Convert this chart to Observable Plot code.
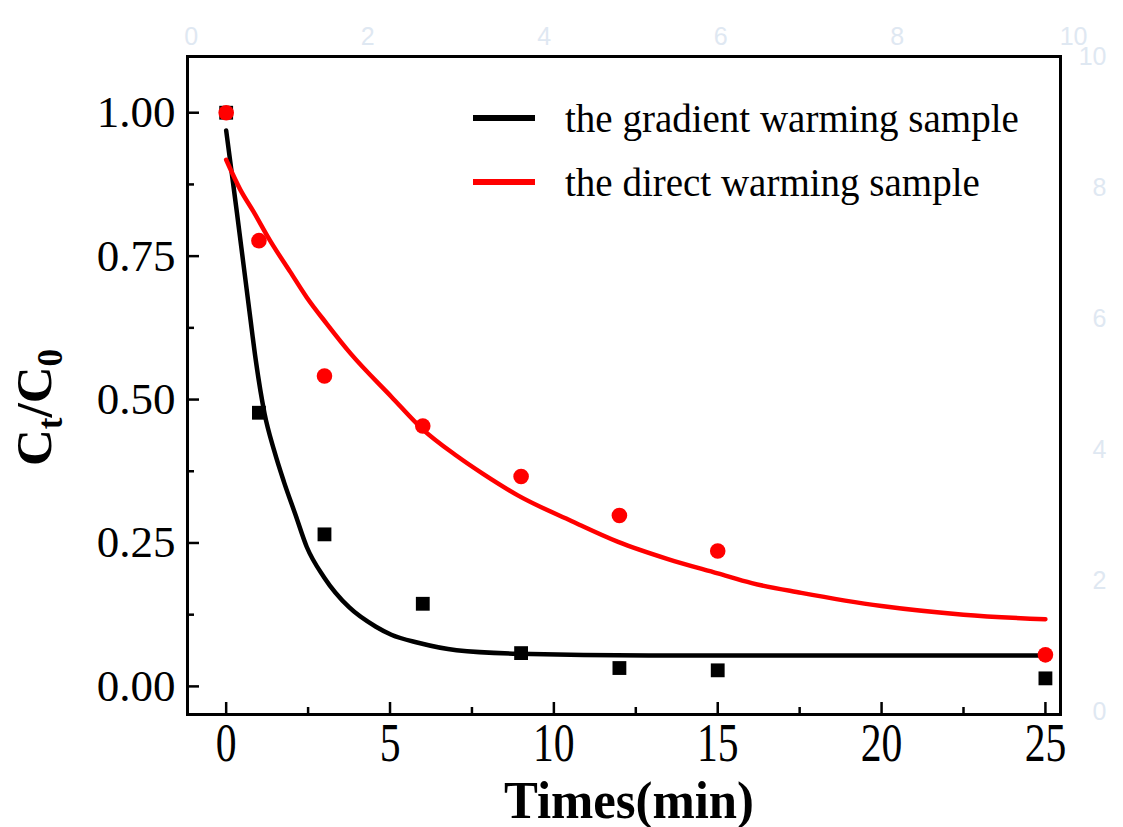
<!DOCTYPE html>
<html>
<head>
<meta charset="utf-8">
<script src="https://cdn.jsdelivr.net/npm/d3@7"></script>
<script src="https://cdn.jsdelivr.net/npm/@observablehq/plot@0.6"></script>
<style>
  html, body { margin: 0; padding: 0; background: #fff; }
  #wrap { position: relative; width: 1123px; height: 827px; overflow: hidden; }
  #wrap svg { display: block; }
  .leg { position: absolute; display: flex; align-items: center; height: 44px;
         font-family: "Liberation Serif", "Times New Roman", serif; font-size: 39px; color: #000; white-space: nowrap; }
  .leg .ln { width: 62px; height: 6px; margin-right: 30px; }
</style>
</head>
<body>
<div id="wrap"></div>
<script>
// ---- data ----
const times = [0, 1, 3, 6, 9, 12, 15, 25];
const gradientVals = [1.0, 0.477, 0.265, 0.144, 0.058, 0.032, 0.028, 0.014];
const directVals   = [1.0, 0.777, 0.541, 0.454, 0.366, 0.298, 0.236, 0.055];

// fitted curves (traced)
const gradientFitT = [0, 0.17, 0.33, 0.53, 0.73, 0.9, 1.17, 1.47, 1.76, 2.11, 2.46, 2.99, 3.75, 4.57, 5.04, 5.86, 7.03, 8.9, 12.9, 25];
const gradientFitY = [0.969, 0.895, 0.825, 0.735, 0.645, 0.57, 0.476, 0.41, 0.357, 0.3, 0.243, 0.19, 0.138, 0.104, 0.09, 0.076, 0.063, 0.057, 0.054, 0.054];
const directFitT = [0, 0.43, 0.83, 1.34, 1.95, 2.46, 3.07, 3.8, 5.04, 5.98, 7.03, 7.85, 8.9, 10.55, 11.96, 13.48, 15, 16.04, 17.55, 20, 22.5, 25];
const directFitY = [0.918, 0.866, 0.828, 0.777, 0.723, 0.678, 0.632, 0.58, 0.505, 0.449, 0.402, 0.37, 0.333, 0.288, 0.252, 0.222, 0.197, 0.18, 0.163, 0.14, 0.125, 0.117];

const seriesNames = ["the gradient warming sample", "the direct warming sample"];
const seriesColors = ["#000000", "#ff0000"];

const xMajor = [0, 5, 10, 15, 20, 25];
const xMinor = [2.5, 7.5, 12.5, 17.5, 22.5];
const yMajor = [0, 0.25, 0.5, 0.75, 1.0];
const yMinor = [0.125, 0.375, 0.625, 0.875];
const ghostTicks = [0, 2, 4, 6, 8, 10];

const xTitle = "Times(min)";
const yTitle = "Ct/C0";

// ---- build tables ----
const gradientPts = times.map((t, i) => ({t, v: gradientVals[i]}));
const directPts = times.map((t, i) => ({t, v: directVals[i]}));
const gradientFit = gradientFitT.map((t, i) => ({t, v: gradientFitY[i]}));
const directFit = directFitT.map((t, i) => ({t, v: directFitY[i]}));

const W = 1123, H = 827;
const mL = 187, mR = 63, mT = 56, mB = 113;
const innerW = W - mL - mR, innerH = H - mT - mB;
const xDomain = [-1.18, 25.46];
const yDomain = [-0.049, 1.098];

// linked (ghost) axes of the original: 0..10 spanning a slightly wider range
const topLink = d3.scaleLinear([0, 10], [-1.07, 25.86]);
const rightLink = d3.scaleLinear([0, 10], [-0.044, 1.097]);

const serif = "Liberation Serif, Times New Roman, serif";
const ghost = "#dfe8f2";

const plot = Plot.plot({
  width: W, height: H,
  marginLeft: mL, marginRight: mR, marginTop: mT, marginBottom: mB,
  x: {domain: xDomain, axis: null},
  y: {domain: yDomain, axis: null},
  style: {fontFamily: serif, background: "#fff", overflow: "visible"},
  marks: [
    // ghost linked axes labels
    Plot.text(ghostTicks, {x: d => topLink(d), frameAnchor: "top", dy: -29, text: d => String(d),
      fontFamily: "Liberation Sans, Arial, sans-serif", fontSize: 25, fill: ghost}),
    Plot.text(ghostTicks, {y: d => rightLink(d), frameAnchor: "right", dx: 46, text: d => String(d),
      fontFamily: "Liberation Sans, Arial, sans-serif", fontSize: 25, fill: ghost}),
    // inward ticks
    Plot.tickX(xMajor, {x: d => d, insetTop: innerH - 12, stroke: "#000", strokeWidth: 2.5}),
    Plot.tickX(xMinor, {x: d => d, insetTop: innerH - 7, stroke: "#000", strokeWidth: 2.5}),
    Plot.tickY(yMajor, {y: d => d, insetRight: innerW - 12, stroke: "#000", strokeWidth: 2.5}),
    Plot.tickY(yMinor, {y: d => d, insetRight: innerW - 7, stroke: "#000", strokeWidth: 2.5}),
    // tick labels
    Plot.axisX({ticks: xMajor, tickSize: 0, tickPadding: 8, fontSize: 54, fontFamily: serif, label: null, fill: "#000"}),
    Plot.axisY({ticks: yMajor, tickSize: 0, tickPadding: 12, fontSize: 45, fontFamily: serif, label: null,
      tickFormat: d3.format(".2f"), fill: "#000"}),
    // curves
    Plot.line(gradientFit, {x: "t", y: "v", stroke: seriesColors[0], strokeWidth: 4.5, curve: "monotone-x"}),
    Plot.line(directFit, {x: "t", y: "v", stroke: seriesColors[1], strokeWidth: 4.5, curve: "monotone-x"}),
    // points
    Plot.dot(gradientPts, {x: "t", y: "v", symbol: "square", r: 7.8, fill: seriesColors[0], stroke: "none"}),
    Plot.dot(directPts, {x: "t", y: "v", symbol: "circle", r: 7.8, fill: seriesColors[1], stroke: "none"}),
    // frame
    Plot.frame({stroke: "#000", strokeWidth: 3}),
    // axis titles
    Plot.text([xTitle], {text: d => d, frameAnchor: "bottom", dx: 5, dy: 103, lineAnchor: "bottom", textAnchor: "middle",
      fontSize: 53, fontWeight: "bold", fontFamily: serif, fill: "#000"}),
    Plot.text([yTitle], {text: d => d, frameAnchor: "left", rotate: -90, dx: -137, dy: 22, lineAnchor: "bottom", textAnchor: "middle",
      fontSize: 51, fontWeight: "bold", fontFamily: serif, fill: "#000"})
  ]
});

const wrap = document.getElementById("wrap");
wrap.appendChild(plot);

// legend (inside plot area, as in the original)
const legTops = [96, 160];
seriesNames.forEach((name, i) => {
  const row = document.createElement("div");
  row.className = "leg";
  row.style.left = "473px";
  row.style.top = legTops[i] + "px";
  const ln = document.createElement("span");
  ln.className = "ln";
  ln.style.background = seriesColors[i];
  const tx = document.createElement("span");
  tx.textContent = name;
  row.appendChild(ln); row.appendChild(tx);
  wrap.appendChild(row);
});

const allTexts = Array.from(plot.querySelectorAll("text"));

// condensed look of the x tick labels and x title (as in the original)
plot.querySelectorAll('g[aria-label="x-axis tick label"] text').forEach(t => {
  const w = t.getComputedTextLength();
  t.setAttribute("textLength", (w * 0.77).toFixed(1));
  t.setAttribute("lengthAdjust", "spacingAndGlyphs");
});
allTexts.filter(t => t.textContent === xTitle).forEach(t => {
  t.setAttribute("textLength", "250");
  t.setAttribute("lengthAdjust", "spacingAndGlyphs");
});
// subscripts in the y title
allTexts.filter(t => t.textContent === yTitle).forEach(t => {
  t.textContent = "";
  const parts = [["C", null, 0], ["t", 35, 11], ["/C", null, -11], ["0", 35, 11]];
  parts.forEach(([s, fs, dy]) => {
    const sp = document.createElementNS("http://www.w3.org/2000/svg", "tspan");
    sp.textContent = s;
    if (fs) sp.setAttribute("font-size", fs);
    if (dy) sp.setAttribute("dy", dy);
    t.appendChild(sp);
  });
});
</script>
</body>
</html>
